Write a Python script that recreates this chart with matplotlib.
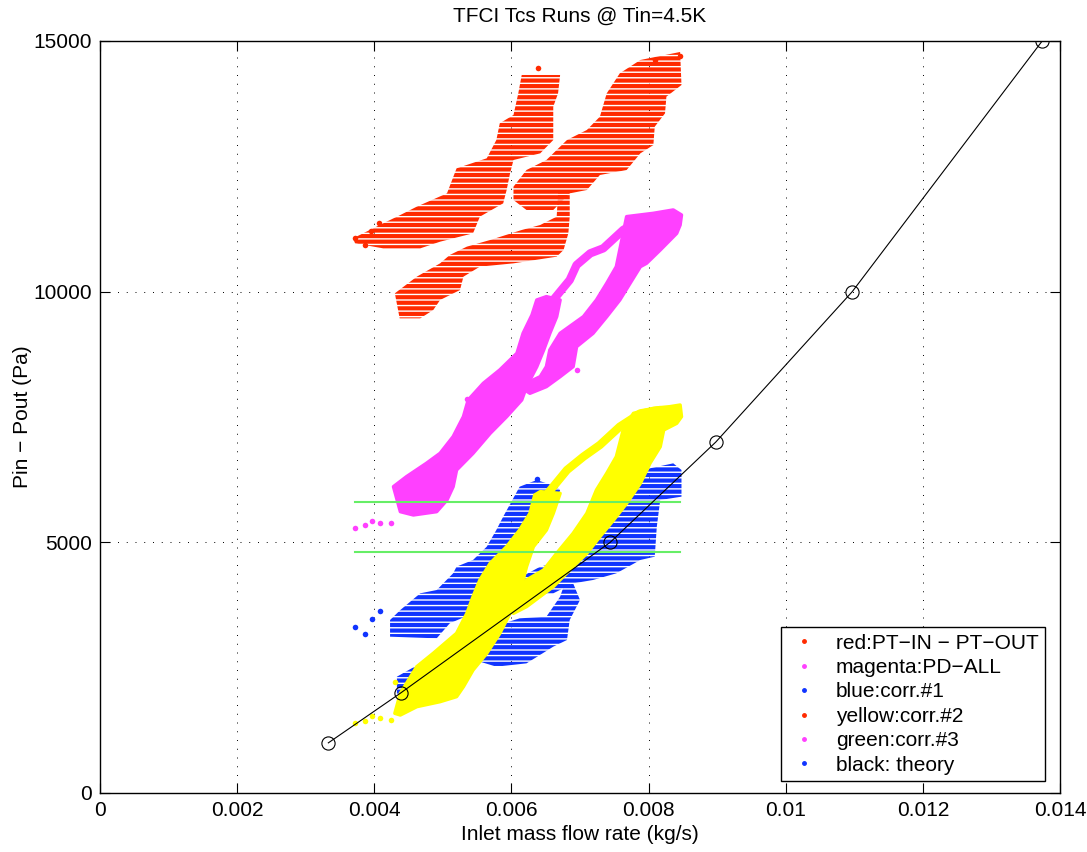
import matplotlib
matplotlib.use('Agg')
import matplotlib.pyplot as plt
from matplotlib.lines import Line2D
from matplotlib.patches import Polygon

plt.rcParams['font.family'] = ['Liberation Sans', 'DejaVu Sans']
plt.rcParams['hatch.linewidth'] = 3.0

# colours of the run data
RED = '#ff2a00'
MAGENTA = '#ff40ff'
BLUE = '#1034ff'
YELLOW = '#ffff00'
GREEN = '#66ee66'

# red: PT-IN - PT-OUT, outline of the streaky cloud (three overlapping regions)
red_upper_x = [0.00369, 0.00413, 0.00438, 0.00462, 0.00506, 0.00520, 0.00564, 0.00578, 0.00583, 0.00603,
               0.00610, 0.00615, 0.00671, 0.00668, 0.00661, 0.00661, 0.00642, 0.00603, 0.00598, 0.00593,
               0.00588, 0.00554, 0.00544, 0.00496, 0.00467, 0.00413, 0.00372]
red_upper_y = [11064, 11363, 11529, 11696, 11961, 12460, 12660, 13025, 13358, 13524,
               13956, 14322, 14322, 13956, 13690, 13025, 12759, 12626, 12360, 12028,
               11762, 11496, 11164, 10997, 10864, 10864, 10964]
red_lower_x = [0.00430, 0.00462, 0.00496, 0.00510, 0.00535, 0.00569, 0.00615, 0.00642, 0.00666, 0.00668,
               0.00685, 0.00685, 0.00683, 0.00676, 0.00666, 0.00603, 0.00554, 0.00530, 0.00525, 0.00496,
               0.00486, 0.00467, 0.00437]
red_lower_y = [9967, 10299, 10565, 10731, 10898, 11031, 11230, 11330, 11496, 11961,
               11961, 11496, 11164, 10831, 10698, 10565, 10499, 10299, 10033, 9834,
               9634, 9468, 9468]
red_right_x = [0.00603, 0.00622, 0.00651, 0.00681, 0.00710, 0.00729, 0.00739, 0.00758, 0.00788, 0.00846,
               0.00848, 0.00826, 0.00824, 0.00809, 0.00807, 0.00788, 0.00768, 0.00729, 0.00710, 0.00685,
               0.00661, 0.00622, 0.00603]
red_right_y = [12094, 12427, 12626, 13025, 13225, 13491, 13956, 14355, 14621, 14781,
               14122, 13890, 13557, 13291, 12925, 12759, 12427, 12327, 12028, 11961,
               11629, 11629, 11828]
red_dots_x = [0.00372, 0.00386, 0.00395, 0.00407, 0.00639, 0.00810, 0.00846]
red_dots_y = [11077, 10931, 11217, 11363, 14455, 14620, 14700]

# magenta: PD-ALL, filled bands
mag_left_x = [0.00428, 0.00447, 0.00476, 0.00496, 0.00515, 0.00530, 0.00537, 0.00559, 0.00583, 0.00608,
              0.00617, 0.00630, 0.00637, 0.00651, 0.00671, 0.00666, 0.00656, 0.00647, 0.00637, 0.00622,
              0.00615, 0.00593, 0.00569, 0.00544, 0.00520, 0.00515, 0.00506, 0.00491, 0.00457, 0.00438]
mag_left_y = [6111, 6310, 6576, 6776, 7108, 7507, 7840, 8172, 8438, 8770,
              9169, 9535, 9834, 9901, 9834, 9502, 9169, 8837, 8505, 8106,
              7840, 7507, 7175, 6776, 6443, 6111, 5845, 5612, 5546, 5612]
mag_right_x = [0.00612, 0.00642, 0.00651, 0.00656, 0.00671, 0.00705, 0.00724, 0.00739, 0.00753, 0.00758,
               0.00763, 0.00768, 0.00807, 0.00836, 0.00848, 0.00846, 0.00841, 0.00817, 0.00797, 0.00788,
               0.00773, 0.00758, 0.00739, 0.00719, 0.00695, 0.00690, 0.00671, 0.00651, 0.00627]
mag_right_y = [8106, 8305, 8505, 8837, 9169, 9502, 9834, 10167, 10499, 10832,
               11164, 11497, 11563, 11630, 11530, 11330, 11164, 10832, 10566, 10499,
               10167, 9834, 9502, 9169, 8903, 8505, 8305, 8106, 7973]
mag_arm_x = [0.00661, 0.00685, 0.00695, 0.00715, 0.00734, 0.00763, 0.00788, 0.00812]
mag_arm_y = [9834, 10233, 10532, 10765, 10865, 11231, 11430, 11497]
mag_dots_x = [0.00372, 0.00386, 0.00396, 0.00408, 0.00425, 0.00535, 0.00695]
mag_dots_y = [5293, 5346, 5433, 5393, 5379, 7860, 8438]

# blue: corr.#1, streaky cloud
blue_upper_x = [0.00423, 0.00438, 0.00467, 0.00491, 0.00515, 0.00520, 0.00544, 0.00564, 0.00578, 0.00588,
                0.00612, 0.00637, 0.00666, 0.00671, 0.00661, 0.00642, 0.00622, 0.00603, 0.00583, 0.00574,
                0.00559, 0.00544, 0.00510, 0.00491, 0.00423]
blue_upper_y = [3451, 3650, 3983, 4049, 4382, 4515, 4648, 4913, 5246, 5512,
                6110, 6243, 6110, 6044, 5578, 5246, 4913, 4648, 4448, 4249,
                3850, 3584, 3384, 3085, 3118]
blue_lower_x = [0.00433, 0.00476, 0.00510, 0.00549, 0.00574, 0.00612, 0.00651, 0.00671, 0.00676, 0.00690,
                0.00700, 0.00685, 0.00681, 0.00661, 0.00622, 0.00578, 0.00554, 0.00510, 0.00476, 0.00447,
                0.00433]
blue_lower_y = [2320, 2653, 2719, 2919, 3318, 3484, 3517, 3916, 4116, 4182,
                3850, 3451, 3052, 2919, 2586, 2520, 2620, 2387, 1988, 1855,
                1988]
blue_right_x = [0.00615, 0.00642, 0.00681, 0.00700, 0.00719, 0.00749, 0.00768, 0.00788, 0.00802, 0.00836,
                0.00848, 0.00848, 0.00817, 0.00812, 0.00809, 0.00788, 0.00753, 0.00719, 0.00690, 0.00661,
                0.00615]
blue_right_y = [4315, 4515, 4648, 4913, 5312, 5578, 5977, 6243, 6476, 6576,
                6443, 5911, 5844, 5312, 4714, 4648, 4382, 4249, 4182, 3983,
                3983]
blue_dots_x = [0.00372, 0.00386, 0.00396, 0.00408, 0.00637]
blue_dots_y = [3318, 3172, 3464, 3624, 6257]

# yellow: corr.#2, filled bands
yel_left_x = [0.00430, 0.00438, 0.00462, 0.00486, 0.00520, 0.00535, 0.00544, 0.00554, 0.00569, 0.00593,
              0.00612, 0.00627, 0.00634, 0.00642, 0.00671, 0.00661, 0.00651, 0.00632, 0.00622, 0.00612,
              0.00598, 0.00583, 0.00564, 0.00544, 0.00530, 0.00520, 0.00496, 0.00462, 0.00438]
yel_left_y = [1589, 1988, 2520, 2786, 3185, 3584, 3916, 4249, 4581, 4913,
              5246, 5578, 5944, 6011, 5977, 5578, 5246, 4913, 4515, 3983,
              3584, 3185, 2786, 2453, 2121, 1922, 1822, 1722, 1556]
yel_right_x = [0.00603, 0.00622, 0.00647, 0.00666, 0.00690, 0.00710, 0.00724, 0.00739, 0.00753, 0.00763,
               0.00778, 0.00807, 0.00831, 0.00846, 0.00848, 0.00841, 0.00822, 0.00817, 0.00802, 0.00788,
               0.00768, 0.00749, 0.00729, 0.00710, 0.00685, 0.00661, 0.00622, 0.00603]
yel_right_y = [3916, 4249, 4448, 4781, 5179, 5578, 6044, 6376, 6709, 7241,
               7573, 7673, 7706, 7739, 7507, 7374, 7241, 6908, 6576, 6177,
               5778, 5445, 5113, 4781, 4448, 4116, 3717, 3584]
yel_arm_x = [0.00651, 0.00681, 0.00705, 0.00729, 0.00758, 0.00788, 0.00817]
yel_arm_y = [5944, 6443, 6709, 6942, 7307, 7573, 7640]
yel_dots_x = [0.00372, 0.00386, 0.00396, 0.00408, 0.00425, 0.00430]
yel_dots_y = [1390, 1443, 1536, 1489, 1456, 2221]

# green: corr.#3 limits
green_x = [0.00372, 0.00846]
green_levels = [5800, 4800]

# black: theory
theory_flow = [0.00333, 0.00439, 0.00744, 0.00898, 0.01097, 0.01374]
theory_dp = [1000, 2000, 5000, 7000, 10000, 15000]

x_ticks = [0, 0.002, 0.004, 0.006, 0.008, 0.01, 0.012, 0.014]
x_tick_labels = ['0', '0.002', '0.004', '0.006', '0.008', '0.01', '0.012', '0.014']
y_ticks = [0, 5000, 10000, 15000]
y_tick_labels = ['0', '5000', '10000', '15000']

legend_labels = ['red:PT\u2212IN \u2212 PT\u2212OUT', 'magenta:PD\u2212ALL', 'blue:corr.#1',
                 'yellow:corr.#2', 'green:corr.#3', 'black: theory']
legend_colors = [RED, MAGENTA, BLUE, RED, MAGENTA, BLUE]


def streak_cloud(ax, xs, ys, color, z):
    # horizontal streaks, like the quantised pressure readings
    ax.add_patch(Polygon(list(zip(xs, ys)), closed=True, facecolor='none',
                         edgecolor=color, linewidth=0, hatch='---', zorder=z))


def solid_cloud(ax, xs, ys, color, z):
    ax.add_patch(Polygon(list(zip(xs, ys)), closed=True, facecolor=color,
                         edgecolor=color, linewidth=2.5, joinstyle='round', zorder=z))


fig = plt.figure(figsize=(10.87, 8.52), dpi=100)
ax = fig.add_axes([100 / 1087, 59 / 852, 960 / 1087, 752 / 852])

for xs, ys in [(red_upper_x, red_upper_y), (red_lower_x, red_lower_y), (red_right_x, red_right_y)]:
    streak_cloud(ax, xs, ys, RED, 2)
ax.scatter(red_dots_x, red_dots_y, s=16, color=RED, linewidths=0, zorder=2)

for xs, ys in [(mag_left_x, mag_left_y), (mag_right_x, mag_right_y)]:
    solid_cloud(ax, xs, ys, MAGENTA, 3)
ax.plot(mag_arm_x, mag_arm_y, color=MAGENTA, lw=6, solid_capstyle='round',
        solid_joinstyle='round', zorder=3)
ax.scatter(mag_dots_x, mag_dots_y, s=16, color=MAGENTA, linewidths=0, zorder=3)

for xs, ys in [(blue_upper_x, blue_upper_y), (blue_lower_x, blue_lower_y), (blue_right_x, blue_right_y)]:
    streak_cloud(ax, xs, ys, BLUE, 4)
ax.scatter(blue_dots_x, blue_dots_y, s=16, color=BLUE, linewidths=0, zorder=4)

for xs, ys in [(yel_left_x, yel_left_y), (yel_right_x, yel_right_y)]:
    solid_cloud(ax, xs, ys, YELLOW, 5)
ax.plot(yel_arm_x, yel_arm_y, color=YELLOW, lw=6, solid_capstyle='round',
        solid_joinstyle='round', zorder=5)
ax.scatter(yel_dots_x, yel_dots_y, s=16, color=YELLOW, linewidths=0, zorder=5)

for level in green_levels:
    ax.plot(green_x, [level, level], color=GREEN, lw=1.5, zorder=6)

ax.plot(theory_flow, theory_dp, color='k', lw=0.8, marker='o', ms=9.5,
        mfc='none', mec='k', mew=0.8, zorder=7)

ax.set_xlim(0, 0.014)
ax.set_ylim(0, 15000)
ax.set_xticks(x_ticks)
ax.set_xticklabels(x_tick_labels)
ax.set_yticks(y_ticks)
ax.set_yticklabels(y_tick_labels)
ax.tick_params(direction='in', length=7, width=0.8, top=True, right=True,
               labelsize=15, pad=6)
for sp in ax.spines.values():
    sp.set_linewidth(1.0)
ax.set_axisbelow(True)
ax.grid(True, color='k', linestyle=(0, (1, 8)), linewidth=0.7)

ax.set_title('TFCI Tcs Runs @ Tin=4.5K', fontsize=15, pad=14)
ax.set_xlabel('Inlet mass flow rate (kg/s)', fontsize=15, labelpad=3)
ax.set_ylabel('Pin \u2212 Pout (Pa)', fontsize=15, labelpad=0.5)

handles = [Line2D([], [], ls='none', marker='.', ms=5, color=c) for c in legend_colors]
leg = ax.legend(handles, legend_labels, loc='lower right', bbox_to_anchor=(0.9844, 0.016),
                fontsize=15, fancybox=False, framealpha=1, edgecolor='k',
                handlelength=1.6, handletextpad=0.75, borderpad=0.3, labelspacing=0.26,
                borderaxespad=0)
leg.get_frame().set_linewidth(1.0)
leg.set_zorder(10)

fig.savefig('out.png', dpi=100)
